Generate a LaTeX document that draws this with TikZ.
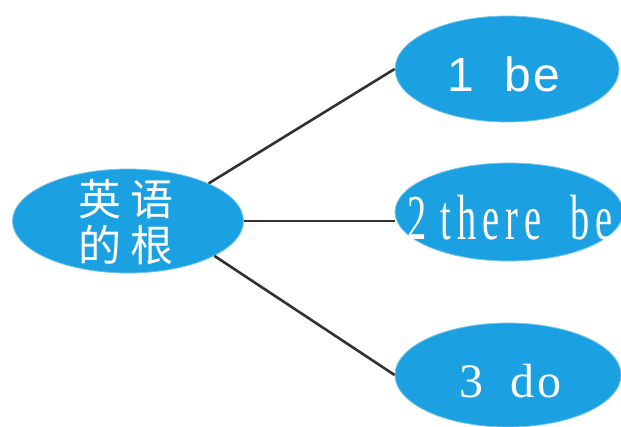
\documentclass[tikz,border=0pt]{standalone}
\usepackage{fontspec}
\setmainfont{Liberation Serif}
\newfontfamily\cjkfont{Noto Sans CJK SC}
\newfontfamily\arialfont{Liberation Sans}
\usetikzlibrary{shapes.geometric}
\definecolor{bubble}{RGB}{27,160,226}
\definecolor{linkgray}{RGB}{50,50,50}
\tikzset{
  bubblenode/.style={ellipse, fill=bubble, draw=bubble!60!white, line width=0.8pt, inner sep=0pt, text=white},
  link/.style={draw=linkgray, line width=2.6pt}
}
\begin{document}
\begin{tikzpicture}[x=1pt,y=-1pt]
\useasboundingbox (0,0) rectangle (621,426);
\fill[white] (0,0) rectangle (621,426);
\node[bubblenode, minimum width=231pt, minimum height=104pt] (root) at (128,221) {};
\node[text=white, align=center, font=\cjkfont\fontsize{43pt}{48pt}\selectfont] (roottext) at (126,222) {英\hspace{10pt}语\\[-2pt]的\hspace{10pt}根};
\node[bubblenode, minimum width=224pt, minimum height=106pt] (one) at (507,69) {};
\node[text=white, font=\arialfont\fontsize{48pt}{52pt}\selectfont] (onetext) at (504,74) {1\hspace{30pt}b\hspace{2pt}e};
\node[bubblenode, minimum width=228pt, minimum height=98pt] (two) at (509,212) {};
\node[text=white, font=\fontsize{64pt}{68pt}\selectfont] (twotext) at (510,218) {\scalebox{0.6}[1]{2\hspace{23pt}t\hspace{10pt}h\hspace{10pt}e\hspace{10pt}r\hspace{10pt}e\hspace{48pt}b\hspace{10pt}e}};
\node[bubblenode, minimum width=226pt, minimum height=104pt] (three) at (508,375) {};
\node[text=white, font=\fontsize{48pt}{52pt}\selectfont] (threetext) at (510,381) {3\hspace{28pt}d\hspace{2pt}o};
\draw[link] (root.25) -- (one.west);
\draw[link] (root.east) -- (root.east -| two.west);
\draw[link] (root.-22) -- (three.west);
\end{tikzpicture}
\end{document}
